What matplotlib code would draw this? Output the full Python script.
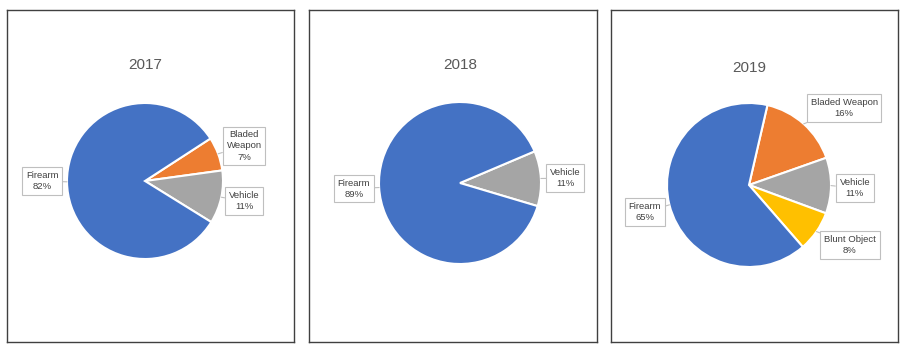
import matplotlib
matplotlib.use("Agg")
import matplotlib.pyplot as plt
import numpy as np

plt.rcParams['font.family'] = ['Liberation Sans', 'DejaVu Sans']

# ---- data ----
years = ["2017", "2018", "2019"]
cats_2017 = ["Bladed Weapon", "Vehicle", "Firearm"]
vals_2017 = [7, 11, 82]
cats_2018 = ["Vehicle", "Firearm"]
vals_2018 = [11, 89]
cats_2019 = ["Bladed Weapon", "Vehicle", "Blunt Object", "Firearm"]
vals_2019 = [16, 11, 8, 65]

# ---- style / layout ----
colors = {"Firearm": "#4472C4", "Bladed Weapon": "#ED7D31",
          "Vehicle": "#A5A5A5", "Blunt Object": "#FFC000"}
label_text = {"Bladed Weapon": {"2017": "Bladed\nWeapon", "2019": "Bladed Weapon"}}
W, H = 909, 355
panels = [(7, 10, 294, 342), (309, 10, 597, 342), (611, 10, 898, 342)]
centers = [(145, 181, 78), (460, 183, 81), (749, 185, 82)]
title_y = [65, 65, 68]
start_angles = [33, 23, 77]
# label centres in units of pie radius (relative to pie centre)
label_pos = [
    {"Firearm": (-1.32, 0.0), "Bladed Weapon": (1.27, 0.45), "Vehicle": (1.27, -0.26)},
    {"Firearm": (-1.31, -0.07), "Vehicle": (1.30, 0.06)},
    {"Firearm": (-1.27, -0.33), "Bladed Weapon": (1.16, 0.94),
     "Vehicle": (1.29, -0.04), "Blunt Object": (1.23, -0.73)},
]

fig = plt.figure(figsize=(W / 100, H / 100), dpi=100)
fig.patch.set_facecolor("white")

datasets = [(cats_2017, vals_2017), (cats_2018, vals_2018), (cats_2019, vals_2019)]

for i, (year, (cats, vals)) in enumerate(zip(years, datasets)):
    x0, y0, x1, y1 = panels[i]
    cx, cy, r = centers[i]
    ax = fig.add_axes([x0 / W, (H - y1) / H, (x1 - x0) / W, (y1 - y0) / H])
    wedges, _ = ax.pie(vals, colors=[colors[c] for c in cats], startangle=start_angles[i],
                       counterclock=False, radius=1.0,
                       wedgeprops=dict(edgecolor="white", linewidth=1.5))
    ax.set_aspect("auto")
    ax.set_xlim((x0 - cx) / r, (x1 - cx) / r)
    ax.set_ylim((cy - y1) / r, (cy - y0) / r)
    ax.set_frame_on(True)
    ax.set_axis_on()
    ax.set_xticks([])
    ax.set_yticks([])
    for s in ax.spines.values():
        s.set_visible(True)
        s.set_color("#404040")
        s.set_linewidth(1.0)
    ax.text(0, (cy - title_y[i]) / r, year, ha="center", va="center",
            fontsize=11, color="#595959")
    total = sum(vals)
    for w, c, v in zip(wedges, cats, vals):
        mid = np.deg2rad((w.theta1 + w.theta2) / 2)
        edge = (np.cos(mid) * 1.0, np.sin(mid) * 1.0)
        lx, ly = label_pos[i][c]
        name = label_text.get(c, {}).get(year, c)
        pct = round(100 * v / total)
        ax.annotate(f"{name}\n{pct}%", xy=edge, xytext=(lx, ly),
                    ha="center", va="center", fontsize=6.8, color="#404040",
                    linespacing=1.3,
                    bbox=dict(boxstyle="square,pad=0.4", fc="white", ec="#BFBFBF", lw=0.8),
                    arrowprops=dict(arrowstyle="-", color="#BFBFBF", lw=0.8,
                                    shrinkA=0, shrinkB=0),
                    annotation_clip=False)

fig.savefig("out.png", dpi=100, facecolor="white")
